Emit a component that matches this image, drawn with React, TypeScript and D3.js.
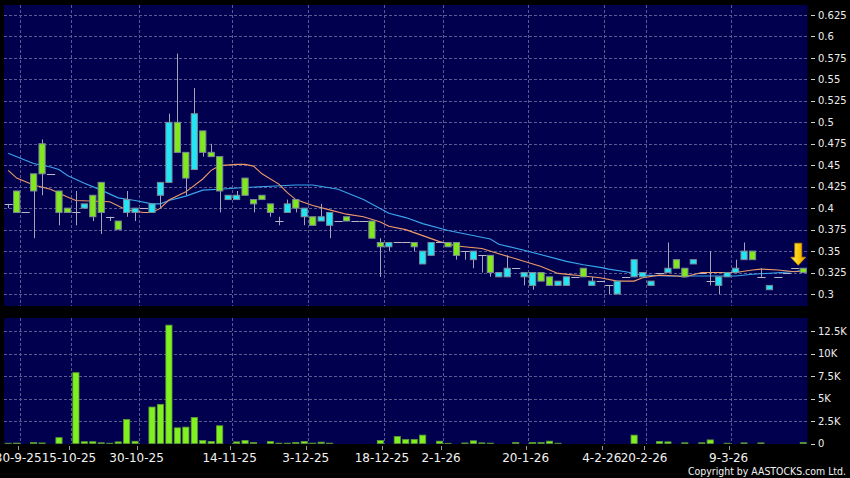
import React, { useEffect, useRef } from 'react';
import * as d3 from 'd3';

// daily candles (index = trading session)
const opens = [
  0.405, 0.42, 0.395, 0.44, 0.475, 0.44, 0.42, 0.4, 0.395, 0.4,
  0.415, 0.43, 0.39, 0.385, 0.395, 0.395, 0.4, 0.395, 0.415, 0.43,
  0.5, 0.465, 0.445, 0.49, 0.465, 0.46, 0.41, 0.41, 0.435, 0.41,
  0.415, 0.405, 0.385, 0.395, 0.41, 0.39, 0.39, 0.385, 0.38, 0.385,
  0.39, 0.385, 0.385, 0.385, 0.36, 0.355, 0.36, 0.36, 0.36, 0.335,
  0.345, 0.36, 0.36, 0.36, 0.35, 0.34, 0.345, 0.345, 0.32, 0.32,
  0.33, 0.32, 0.31, 0.325, 0.32, 0.31, 0.31, 0.32, 0.33, 0.31,
  0.315, 0.31, 0.3, 0.32, 0.32, 0.32, 0.31, 0.325, 0.325, 0.34,
  0.33, 0.335, 0.325, 0.315, 0.31, 0.32, 0.325, 0.34, 0.35, 0.32,
  0.305, 0.32, 0.325, 0.33, 0.33,
];
const closes = [
  0.405, 0.395, 0.395, 0.42, 0.44, 0.44, 0.395, 0.395, 0.395, 0.405,
  0.39, 0.395, 0.39, 0.375, 0.41, 0.4, 0.4, 0.405, 0.43, 0.5,
  0.465, 0.435, 0.51, 0.465, 0.46, 0.42, 0.415, 0.415, 0.415, 0.405,
  0.41, 0.395, 0.385, 0.405, 0.4, 0.4, 0.38, 0.39, 0.395, 0.385,
  0.385, 0.385, 0.385, 0.365, 0.355, 0.36, 0.36, 0.36, 0.355, 0.35,
  0.36, 0.36, 0.355, 0.345, 0.35, 0.35, 0.345, 0.325, 0.325, 0.33,
  0.33, 0.325, 0.325, 0.315, 0.31, 0.315, 0.32, 0.32, 0.32, 0.315,
  0.315, 0.31, 0.315, 0.32, 0.34, 0.325, 0.315, 0.325, 0.33, 0.33,
  0.32, 0.34, 0.325, 0.315, 0.32, 0.325, 0.33, 0.35, 0.34, 0.32,
  0.31, 0.32, 0.325, 0.33, 0.325,
];
const highs = [
  0.405, 0.42, 0.395, 0.44, 0.48, 0.44, 0.42, 0.4, 0.42, 0.405,
  0.415, 0.43, 0.39, 0.385, 0.42, 0.4, 0.4, 0.405, 0.43, 0.51,
  0.58, 0.465, 0.54, 0.49, 0.475, 0.46, 0.415, 0.42, 0.435, 0.41,
  0.415, 0.405, 0.39, 0.41, 0.41, 0.4, 0.39, 0.405, 0.395, 0.385,
  0.39, 0.385, 0.385, 0.385, 0.365, 0.36, 0.36, 0.36, 0.36, 0.35,
  0.36, 0.36, 0.36, 0.36, 0.35, 0.35, 0.345, 0.345, 0.325, 0.345,
  0.33, 0.325, 0.325, 0.325, 0.32, 0.315, 0.32, 0.32, 0.33, 0.32,
  0.315, 0.31, 0.315, 0.32, 0.34, 0.325, 0.315, 0.325, 0.36, 0.34,
  0.33, 0.34, 0.325, 0.35, 0.32, 0.325, 0.34, 0.36, 0.35, 0.33,
  0.31, 0.32, 0.325, 0.33, 0.33,
];
const lows = [
  0.4, 0.395, 0.395, 0.365, 0.415, 0.44, 0.38, 0.395, 0.38, 0.4,
  0.385, 0.37, 0.385, 0.375, 0.39, 0.385, 0.4, 0.395, 0.4, 0.43,
  0.465, 0.415, 0.445, 0.46, 0.46, 0.395, 0.41, 0.41, 0.415, 0.395,
  0.41, 0.39, 0.38, 0.395, 0.395, 0.38, 0.38, 0.385, 0.365, 0.385,
  0.385, 0.385, 0.385, 0.365, 0.32, 0.35, 0.36, 0.36, 0.35, 0.335,
  0.345, 0.36, 0.355, 0.34, 0.34, 0.33, 0.325, 0.32, 0.32, 0.32,
  0.33, 0.31, 0.305, 0.315, 0.31, 0.31, 0.31, 0.32, 0.32, 0.31,
  0.315, 0.3, 0.3, 0.32, 0.32, 0.32, 0.31, 0.325, 0.325, 0.33,
  0.32, 0.335, 0.325, 0.31, 0.3, 0.32, 0.325, 0.34, 0.34, 0.32,
  0.305, 0.32, 0.325, 0.33, 0.325,
];
const volumes = [
  30, 50, 0, 100, 60, 0, 650, 0, 7870, 200,
  200, 80, 30, 180, 2670, 250, 0, 4050, 4350, 13150,
  1740, 1820, 2900, 330, 220, 1970, 0, 180, 330, 110,
  0, 220, 40, 40, 110, 220, 40, 150, 40, 0,
  0, 0, 0, 0, 330, 0, 780, 450, 450, 930,
  0, 260, 20, 0, 60, 300, 70, 40, 0, 0,
  110, 0, 110, 110, 260, 30, 0, 0, 0, 0,
  0, 0, 0, 0, 930, 0, 0, 220, 180, 0,
  80, 0, 80, 400, 0, 30, 0, 70, 0, 70,
  0, 0, 0, 0, 100,
];

// moving averages read at [session index, value]
const maShort: [number, number][] = [
  [0, 0.444], [1, 0.435], [3, 0.427], [5, 0.422], [7, 0.413], [8, 0.409], [12, 0.4075],
  [14, 0.398], [16, 0.395], [17, 0.395], [18, 0.4], [19, 0.4095], [21, 0.419], [23, 0.434],
  [24, 0.444], [25, 0.4495], [27, 0.451], [28, 0.451], [29, 0.449], [30, 0.44], [32, 0.428],
  [33, 0.418], [34, 0.41], [36, 0.403], [38, 0.398], [40, 0.393], [42, 0.39], [44, 0.384],
  [45, 0.379], [47, 0.375], [49, 0.368], [51, 0.361], [53, 0.356], [56, 0.353], [58, 0.347],
  [60, 0.341], [63, 0.332], [65, 0.324], [68, 0.321], [70, 0.319], [72, 0.315], [74, 0.315],
  [75, 0.319], [77, 0.322], [79, 0.321], [80, 0.32], [82, 0.325], [86, 0.325], [88, 0.328],
  [89, 0.329], [91, 0.328], [93, 0.326], [94, 0.327],
];
const maLong: [number, number][] = [
  [0, 0.464], [1, 0.46], [3, 0.452], [5, 0.448], [6, 0.445], [7, 0.438], [9, 0.429],
  [11, 0.421], [13, 0.412], [15, 0.409], [17, 0.405], [18, 0.405], [19, 0.409], [21, 0.414],
  [23, 0.421], [25, 0.422], [28, 0.424], [31, 0.4255], [34, 0.427], [36, 0.427], [39, 0.422],
  [42, 0.41], [45, 0.394], [47, 0.389], [49, 0.382], [52, 0.374], [57, 0.364], [58, 0.358],
  [61, 0.351], [66, 0.338], [68, 0.334], [70, 0.331], [71, 0.329], [73, 0.326], [75, 0.322],
  [78, 0.321], [80, 0.321], [83, 0.321], [86, 0.321], [88, 0.323], [91, 0.3248], [94, 0.327],
];

const dateTickIdx = [1, 7, 15, 26, 35, 44, 51, 61, 70, 75, 85];
const dateTickLabels = [
  '30-9-25', '15-10-25', '30-10-25', '14-11-25', '3-12-25', '18-12-25',
  '2-1-26', '20-1-26', '4-2-26', '20-2-26', '9-3-26',
];
const priceTicks = [0.3, 0.325, 0.35, 0.375, 0.4, 0.425, 0.45, 0.475, 0.5, 0.525, 0.55, 0.575, 0.6, 0.625];
const volumeTicks = [0, 2500, 5000, 7500, 10000, 12500];
const volumeTickLabels = ['0', '2.5K', '5K', '7.5K', '10K', '12.5K'];

const W = 850;
const H = 478;

const App: React.FC = () => {
  const svgRef = useRef<SVGSVGElement>(null);

  useEffect(() => {
    if (!svgRef.current) return;
    const svg = d3.select(svgRef.current);
    svg.selectAll('*').remove();

    const left = 4;
    const right = 807.5;
    const pTop = 5;
    const pBottom = 306;
    const vTop = 318;
    const vBottom = 444;

    const n = closes.length;
    const x = d3
      .scaleBand<number>()
      .domain(d3.range(n))
      .range([left, right])
      .paddingInner(0.15)
      .paddingOuter(0.075);
    const bw = x.bandwidth();
    const cx = (i: number) => (x(i) as number) + bw / 2;

    const y = d3.scaleLinear().domain([0.3, 0.625]).range([294, 15]);
    const vy = d3.scaleLinear().domain([0, 12500]).range([443.5, 331]);

    const font = 'DejaVu Sans, Verdana, sans-serif';
    const gridColor = '#5a5a92';

    svg.append('rect').attr('width', W).attr('height', H).attr('fill', '#000');

    // panels
    svg.append('rect').attr('x', left).attr('y', pTop).attr('width', right - left).attr('height', pBottom - pTop).attr('fill', '#00004e');
    svg.append('rect').attr('x', left).attr('y', vTop).attr('width', right - left).attr('height', vBottom - vTop).attr('fill', '#00004e');

    const defs = svg.append('defs');
    defs.append('clipPath').attr('id', 'pclip').append('rect')
      .attr('x', left).attr('y', pTop).attr('width', right - left).attr('height', pBottom - pTop);
    const grad = defs.append('linearGradient').attr('id', 'arrowGrad').attr('x1', 0).attr('x2', 1).attr('y1', 0).attr('y2', 0);
    grad.append('stop').attr('offset', '0%').attr('stop-color', '#fff27a');
    grad.append('stop').attr('offset', '55%').attr('stop-color', '#f8c800');
    grad.append('stop').attr('offset', '100%').attr('stop-color', '#e09000');

    // grid - price
    const grid = svg.append('g').attr('stroke', gridColor).attr('stroke-width', 1).attr('stroke-dasharray', '3,2');
    grid.selectAll('.hg').data(priceTicks).enter().append('line')
      .attr('x1', left).attr('x2', right)
      .attr('y1', d => Math.round(y(d)) + 0.5).attr('y2', d => Math.round(y(d)) + 0.5);
    grid.selectAll('.vg').data(dateTickIdx).enter().append('line')
      .attr('x1', d => Math.round(cx(d) + 3.5) + 0.5).attr('x2', d => Math.round(cx(d) + 3.5) + 0.5)
      .attr('y1', pTop).attr('y2', pBottom);
    // grid - volume
    grid.selectAll('.vhg').data(volumeTicks.slice(1)).enter().append('line')
      .attr('x1', left).attr('x2', right)
      .attr('y1', d => Math.round(vy(d)) + 0.5).attr('y2', d => Math.round(vy(d)) + 0.5);
    grid.selectAll('.vvg').data(dateTickIdx).enter().append('line')
      .attr('x1', d => Math.round(cx(d) + 3.5) + 0.5).attr('x2', d => Math.round(cx(d) + 3.5) + 0.5)
      .attr('y1', vTop).attr('y2', vBottom);

    const plot = svg.append('g').attr('clip-path', 'url(#pclip)');

    // moving averages
    const line = d3.line<[number, number]>().x(d => cx(d[0])).y(d => y(d[1]));
    plot.append('path').datum(maLong).attr('d', line).attr('fill', 'none').attr('stroke', '#3aa6ee').attr('stroke-width', 1.1);
    plot.append('path').datum(maShort).attr('d', line).attr('fill', 'none').attr('stroke', '#f09a68').attr('stroke-width', 1.1);

    // candles
    const idx = d3.range(n);
    const candles = plot.selectAll('.candle').data(idx).enter().append('g');
    candles.append('line')
      .attr('x1', i => Math.round(cx(i)) + 0.5).attr('x2', i => Math.round(cx(i)) + 0.5)
      .attr('y1', i => y(highs[i])).attr('y2', i => y(lows[i]))
      .attr('stroke', '#a4a4b4').attr('stroke-width', 1);
    candles.filter(i => opens[i] !== closes[i]).append('rect')
      .attr('x', i => (x(i) as number) + 0.5)
      .attr('width', bw - 1)
      .attr('y', i => y(Math.max(opens[i], closes[i])))
      .attr('height', i => Math.abs(y(opens[i]) - y(closes[i])))
      .attr('fill', i => (closes[i] > opens[i] ? '#22e6f6' : '#80e81c'))
      .attr('stroke', '#7c8c96')
      .attr('stroke-width', 1);
    candles.filter(i => opens[i] === closes[i]).append('line')
      .attr('x1', i => x(i) as number).attr('x2', i => (x(i) as number) + bw + 1)
      .attr('y1', i => Math.round(y(closes[i])) + 0.5).attr('y2', i => Math.round(y(closes[i])) + 0.5)
      .attr('stroke', '#b8b8c8').attr('stroke-width', 1);

    // marker arrow over the last session
    const ax = cx(n - 1) - 5;
    const tip = y(highs[n - 1]) - 3;
    svg.append('path')
      .attr('d', `M${ax - 3.5},${tip - 22} L${ax + 3.5},${tip - 22} L${ax + 3.5},${tip - 8} L${ax + 7.5},${tip - 8} L${ax},${tip} L${ax - 7.5},${tip - 8} L${ax - 3.5},${tip - 8} Z`)
      .attr('fill', 'url(#arrowGrad)')
      .attr('stroke', '#c88a00')
      .attr('stroke-width', 0.8);

    // volume bars
    svg.selectAll('.vol').data(idx.filter(i => volumes[i] > 0)).enter().append('rect')
      .attr('x', i => (x(i) as number) + 0.5)
      .attr('width', bw - 1)
      .attr('y', i => vy(volumes[i]))
      .attr('height', i => vy(0) - vy(volumes[i]))
      .attr('fill', '#80f01e')
      .attr('stroke', '#5c9a34')
      .attr('stroke-width', 0.8);

    // y axes
    const axisG = svg.append('g').attr('font-family', font).attr('font-size', 10).attr('fill', '#ececec');
    const yTicks = axisG.selectAll('.pt').data(priceTicks).enter().append('g');
    yTicks.append('line').attr('x1', 811).attr('x2', 815)
      .attr('y1', d => Math.round(y(d)) + 0.5).attr('y2', d => Math.round(y(d)) + 0.5)
      .attr('stroke', '#cfcfcf');
    yTicks.append('text').attr('x', 818).attr('y', d => y(d)).attr('dy', '0.36em').text(d => String(d));

    const vTicks = axisG.selectAll('.vt').data(volumeTicks).enter().append('g');
    vTicks.append('line').attr('x1', 811).attr('x2', 815)
      .attr('y1', d => Math.round(vy(d)) + 0.5).attr('y2', d => Math.round(vy(d)) + 0.5)
      .attr('stroke', '#cfcfcf');
    vTicks.append('text').attr('x', 818).attr('y', d => vy(d)).attr('dy', '0.36em')
      .text((d, i) => volumeTickLabels[i]);

    // date axis
    const dG = svg.append('g').attr('font-family', font).attr('font-size', 12).attr('fill', '#f2f2f2');
    dG.selectAll('line').data(dateTickIdx).enter().append('line')
      .attr('x1', d => Math.round(cx(d) + 1.5) + 0.5).attr('x2', d => Math.round(cx(d) + 1.5) + 0.5)
      .attr('y1', 446).attr('y2', 450).attr('stroke', '#9a9a9a');
    dG.selectAll('text').data(dateTickIdx).enter().append('text')
      .attr('x', d => cx(d) + 1.5).attr('y', 462).attr('text-anchor', 'middle')
      .text((d, i) => dateTickLabels[i]);

    svg.append('text')
      .attr('x', 846).attr('y', 474.5).attr('text-anchor', 'end')
      .attr('font-family', font).attr('font-size', 10.5).attr('fill', '#f2f2f2')
      .attr('textLength', 158).attr('lengthAdjust', 'spacingAndGlyphs')
      .text('Copyright by AASTOCKS.com Ltd.');
  }, []);

  return (
    <svg
      ref={svgRef}
      width={W}
      height={H}
      style={{ position: 'absolute', left: 0, top: 0, display: 'block' }}
    />
  );
};

export default App;
